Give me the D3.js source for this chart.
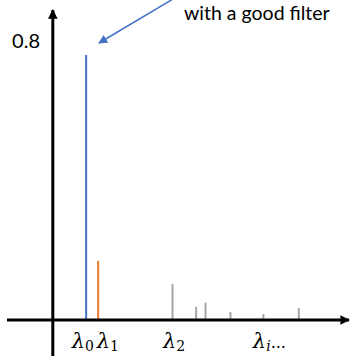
<!DOCTYPE html>
<html>
<head>
<meta charset="utf-8">
<script src="https://cdn.jsdelivr.net/npm/d3@7"></script>
<style>
  body { margin: 0; background: #fff; }
</style>
</head>
<body>
<script>
//eigenvalue positions and heights
var positions = [0, 1, 7.2, 9.17, 9.95, 12.03, 14.78, 17.73];
var values = [0.76, 0.17, 0.103, 0.038, 0.05, 0.023, 0.017, 0.034];
var barColors = ["#4472C4", "#ED7D31", "#A5A5A5", "#A5A5A5", "#A5A5A5", "#A5A5A5", "#A5A5A5", "#A5A5A5"];

//tick labels along the x axis
var labelNames = ["λ", "λ", "λ", "λ"];
var labelSubs = ["0", "1", "2", "i"];
var labelSuffix = ["", "", "", "..."];
var labelPos = [-1.2, 0.88, 6.4, 13.9];

var yTicks = [0.8];
var note = "with a good filter";

window.onload = draw();

function draw() {
    var width = 351,
        height = 356;

    var svg = d3.select("body")
        .append("svg")
        .attr("width", width)
        .attr("height", height);

    var x = d3.scaleLinear().domain([-6.6, 22]).range([7, 350]);
    var y = d3.scaleLinear().domain([0, 0.8]).range([320, 41]);

    var defs = svg.append("defs");
    defs.append("marker")
        .attr("id", "blk")
        .attr("viewBox", "0 0 10 10")
        .attr("refX", 9).attr("refY", 5)
        .attr("markerWidth", 3.2).attr("markerHeight", 3.2)
        .attr("orient", "auto")
        .append("path").attr("d", "M0,0L10,5L0,10Z").attr("fill", "#000");
    defs.append("marker")
        .attr("id", "blu")
        .attr("viewBox", "0 0 10 10")
        .attr("refX", 9).attr("refY", 5)
        .attr("markerWidth", 6).attr("markerHeight", 6)
        .attr("orient", "auto")
        .append("path").attr("d", "M0,0L10,5L0,10Z").attr("fill", "#4472C4");

    //bars (stems)
    svg.selectAll("line.bar")
        .data(values)
        .enter()
        .append("line")
        .attr("class", "bar")
        .attr("x1", function(d, i) { return x(positions[i]); })
        .attr("x2", function(d, i) { return x(positions[i]); })
        .attr("y1", y(0))
        .attr("y2", function(d) { return y(d); })
        .attr("stroke", function(d, i) { return barColors[i]; })
        .attr("stroke-width", 2);

    //axes
    svg.append("line")
        .attr("x1", x.range()[0]).attr("x2", x.range()[1] - 1)
        .attr("y1", y(0)).attr("y2", y(0))
        .attr("stroke", "#000").attr("stroke-width", 3)
        .attr("marker-end", "url(#blk)");
    svg.append("line")
        .attr("x1", x(-2.78)).attr("x2", x(-2.78))
        .attr("y1", height).attr("y2", 10)
        .attr("stroke", "#000").attr("stroke-width", 3)
        .attr("marker-end", "url(#blk)");

    //y tick label
    svg.selectAll("text.ytick")
        .data(yTicks)
        .enter()
        .append("text")
        .attr("class", "ytick")
        .attr("x", 40)
        .attr("y", function(d) { return y(d) + 7; })
        .attr("text-anchor", "end")
        .style("font-family", "Lato, 'Open Sans', sans-serif")
        .style("font-size", "20px")
        .text(function(d) { return d; });

    //x labels
    var lab = svg.selectAll("text.xlab")
        .data(labelNames)
        .enter()
        .append("text")
        .attr("class", "xlab")
        .attr("x", function(d, i) { return x(labelPos[i]); })
        .attr("y", 348)
        .style("font-family", "'DejaVu Serif', serif")
        .style("font-style", "italic")
        .style("font-size", "21px");
    lab.append("tspan").text(function(d) { return d; });
    lab.append("tspan")
        .attr("dy", 3)
        .style("font-size", "14px")
        .style("font-style", function(d, i) { return labelSubs[i] === "i" ? "italic" : "normal"; })
        .text(function(d, i) { return labelSubs[i]; });
    lab.append("tspan")
        .attr("dy", -3)
        .style("font-size", "16px")
        .style("font-style", "normal")
        .text(function(d, i) { return labelSuffix[i]; });

    //annotation
    svg.append("line")
        .attr("x1", 173).attr("y1", -1)
        .attr("x2", 99).attr("y2", 43)
        .attr("stroke", "#4472C4").attr("stroke-width", 1.5)
        .attr("marker-end", "url(#blu)");
    svg.append("text")
        .attr("x", 184)
        .attr("y", 20)
        .style("font-family", "Lato, 'Open Sans', sans-serif")
        .style("font-size", "19.5px")
        .text(note);
}
</script>
</body>
</html>
